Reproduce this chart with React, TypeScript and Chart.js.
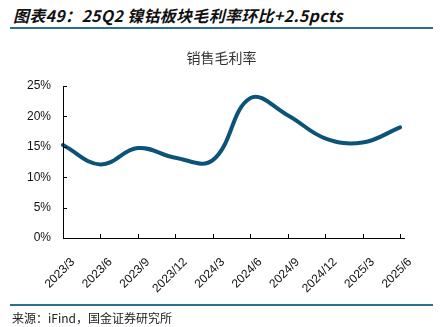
import React, { useEffect, useRef } from "react";
import { Chart, registerables } from "chart.js";

Chart.register(...registerables);

const categories = ["2023/3", "2023/6", "2023/9", "2023/12", "2024/3", "2024/6", "2024/9", "2024/12", "2025/3", "2025/6"];
const grossMargin = [15.3, 12.1, 14.8, 13.2, 12.8, 23.0, 20.2, 16.4, 15.7, 18.2];
const yTicks = [0, 5, 10, 15, 20, 25];

const innerTicks = {
  id: "innerTicks",
  afterDraw(chart: any) {
    const { ctx, chartArea, scales } = chart;
    const x = scales.x;
    const y = scales.y;
    ctx.save();
    ctx.strokeStyle = "#000";
    ctx.lineWidth = 1;
    ctx.beginPath();
    ctx.moveTo(chartArea.left + 0.5, chartArea.top);
    ctx.lineTo(chartArea.left + 0.5, chartArea.bottom + 0.5);
    ctx.lineTo(chartArea.right + 5, chartArea.bottom + 0.5);
    ctx.stroke();
    ctx.beginPath();
    yTicks.forEach((v) => {
      const py = Math.round(y.getPixelForValue(v)) + 0.5;
      ctx.moveTo(chartArea.left, py);
      ctx.lineTo(chartArea.left + 4, py);
    });
    categories.forEach((_, i) => {
      const px = Math.round(x.getPixelForValue(i)) + 0.5;
      ctx.moveTo(px, chartArea.bottom);
      ctx.lineTo(px, chartArea.bottom - 4);
    });
    ctx.stroke();
    ctx.restore();
  },
};

export default function App() {
  const ref = useRef<HTMLCanvasElement>(null);
  useEffect(() => {
    document.body.style.margin = "0";
    const chart = new Chart(ref.current!, {
      type: "line",
      data: {
        labels: categories,
        datasets: [
          {
            data: grossMargin,
            borderColor: "#0b5378",
            borderWidth: 4,
            pointRadius: 0,
            tension: 0.4,
            fill: false,
            borderCapStyle: "round",
          },
        ],
      },
      options: {
        animation: false,
        responsive: false,
        devicePixelRatio: 1,
        layout: { padding: { left: 0, right: 43, top: 86, bottom: 29 } },
        plugins: { legend: { display: false }, tooltip: { enabled: false }, title: { display: false } },
        scales: {
          x: {
            type: "category",
            offset: false,
            grid: { display: false },
            border: { display: false },
            afterFit: (s: any) => { s.height = 60; },
            ticks: {
              autoSkip: false,
              maxRotation: 45,
              minRotation: 45,
              labelOffset: 10,
              padding: 9,
              color: "#111",
              font: { family: "Liberation Sans", size: 12 },
            },
          },
          y: {
            min: 0,
            max: 25,
            grid: { display: false },
            border: { display: false },
            afterFit: (s: any) => { s.width = 63; },
            afterBuildTicks: (s: any) => { s.ticks = yTicks.map((v) => ({ value: v })); },
            ticks: {
              padding: 4,
              color: "#111",
              font: { family: "Liberation Sans", size: 12 },
              callback: (v: any) => v + "%",
            },
          },
        },
      },
      plugins: [innerTicks],
    });
    return () => chart.destroy();
  }, []);

  return (
    <div style={{ position: "relative", width: 443, height: 327, background: "#fff", overflow: "hidden" }}>
      <div
        style={{
          position: "absolute",
          left: 13,
          top: 5,
          fontFamily: "'Noto Sans CJK SC', sans-serif",
          fontWeight: "bold",
          fontStyle: "italic",
          fontSize: 16,
          letterSpacing: 0.3,
          lineHeight: "20px",
          color: "#111",
          whiteSpace: "nowrap",
        }}
      >
        图表49：25Q2 镍钴板块毛利率环比+2.5pcts
      </div>
      <div style={{ position: "absolute", left: 10, top: 27, width: 423, height: 2, background: "#2e6e8e" }} />
      <canvas ref={ref} width={443} height={327} style={{ position: "absolute", left: 0, top: 0 }} />
      <div
        style={{
          position: "absolute",
          left: 0,
          width: 443,
          top: 48,
          textAlign: "center",
          fontFamily: "'Noto Sans CJK SC', sans-serif",
          fontSize: 14,
          lineHeight: "18px",
          color: "#333",
        }}
      >
        销售毛利率
      </div>
      <div style={{ position: "absolute", left: 10, top: 304, width: 423, height: 2, background: "#2e6e8e" }} />
      <div
        style={{
          position: "absolute",
          left: 12,
          top: 310,
          fontFamily: "'Noto Sans CJK SC', sans-serif",
          fontSize: 12,
          lineHeight: "16px",
          color: "#222",
          whiteSpace: "nowrap",
        }}
      >
        来源：iFind，国金证券研究所
      </div>
    </div>
  );
}
